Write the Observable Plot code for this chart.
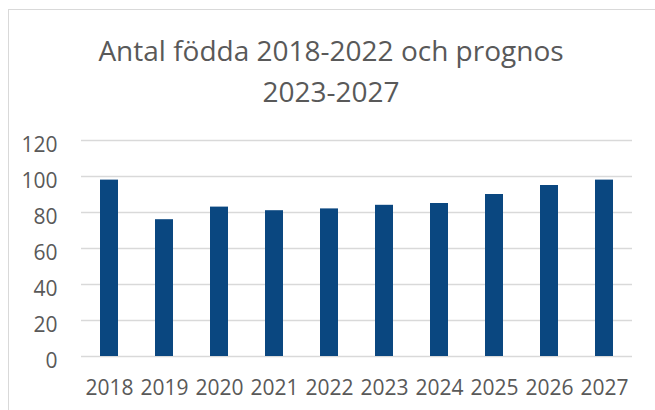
<!DOCTYPE html>
<html>
<head>
<meta charset="utf-8">
<script src="https://cdn.jsdelivr.net/npm/d3@7"></script>
<script src="https://cdn.jsdelivr.net/npm/@observablehq/plot@0.6"></script>
<style>
  html, body { margin: 0; padding: 0; background: #fff; }
  #wrap { position: relative; width: 655px; height: 410px; overflow: hidden; font-family: "Open Sans", sans-serif; }
  #frame { position: absolute; left: 8px; top: 9px; width: 700px; height: 500px; border-left: 1.5px solid #d9d9d9; border-top: 1.5px solid #d9d9d9; box-sizing: border-box; }
  #title { position: absolute; left: 0; top: 30px; width: 655px; padding-left: 7px; box-sizing: border-box; text-align: center; font-size: 28px; line-height: 41px; color: #595959; font-weight: 400; }
  #chart { position: absolute; left: 0; top: 120px; }
</style>
</head>
<body>
<div id="wrap">
  <div id="frame"></div>
  <div id="title">Antal födda 2018-2022 och prognos<br>2023-2027</div>
  <div id="chart"></div>
</div>
<script>
const years = ["2018", "2019", "2020", "2021", "2022", "2023", "2024", "2025", "2026", "2027"];
const births = [98, 76, 83, 81, 82, 84, 85, 90, 95, 98];
const yTicks = [0, 20, 40, 60, 80, 100, 120];

const data = years.map((year, i) => ({year, value: births[i]}));

const chart = Plot.plot({
  width: 655,
  height: 290,
  marginTop: 20,
  marginBottom: 54,
  marginLeft: 81,
  marginRight: 23,
  style: {fontFamily: "Open Sans, sans-serif", fontSize: "21px", color: "#595959", background: "transparent", overflow: "visible"},
  x: {type: "band", domain: years, paddingInner: 0.67, paddingOuter: 0.335},
  y: {domain: [0, 120]},
  marks: [
    Plot.ruleY(yTicks, {stroke: "#d9d9d9", strokeWidth: 1.5}),
    Plot.barY(data, {x: "year", y: "value", fill: "#0a4780"}),
    Plot.axisY(yTicks, {tickSize: 0, tickPadding: 24, fontSize: 21, dy: 5, label: null}),
    Plot.axisX({tickSize: 0, tickPadding: 24, fontSize: 21, label: null})
  ]
});
document.getElementById("chart").appendChild(chart);
</script>
</body>
</html>
